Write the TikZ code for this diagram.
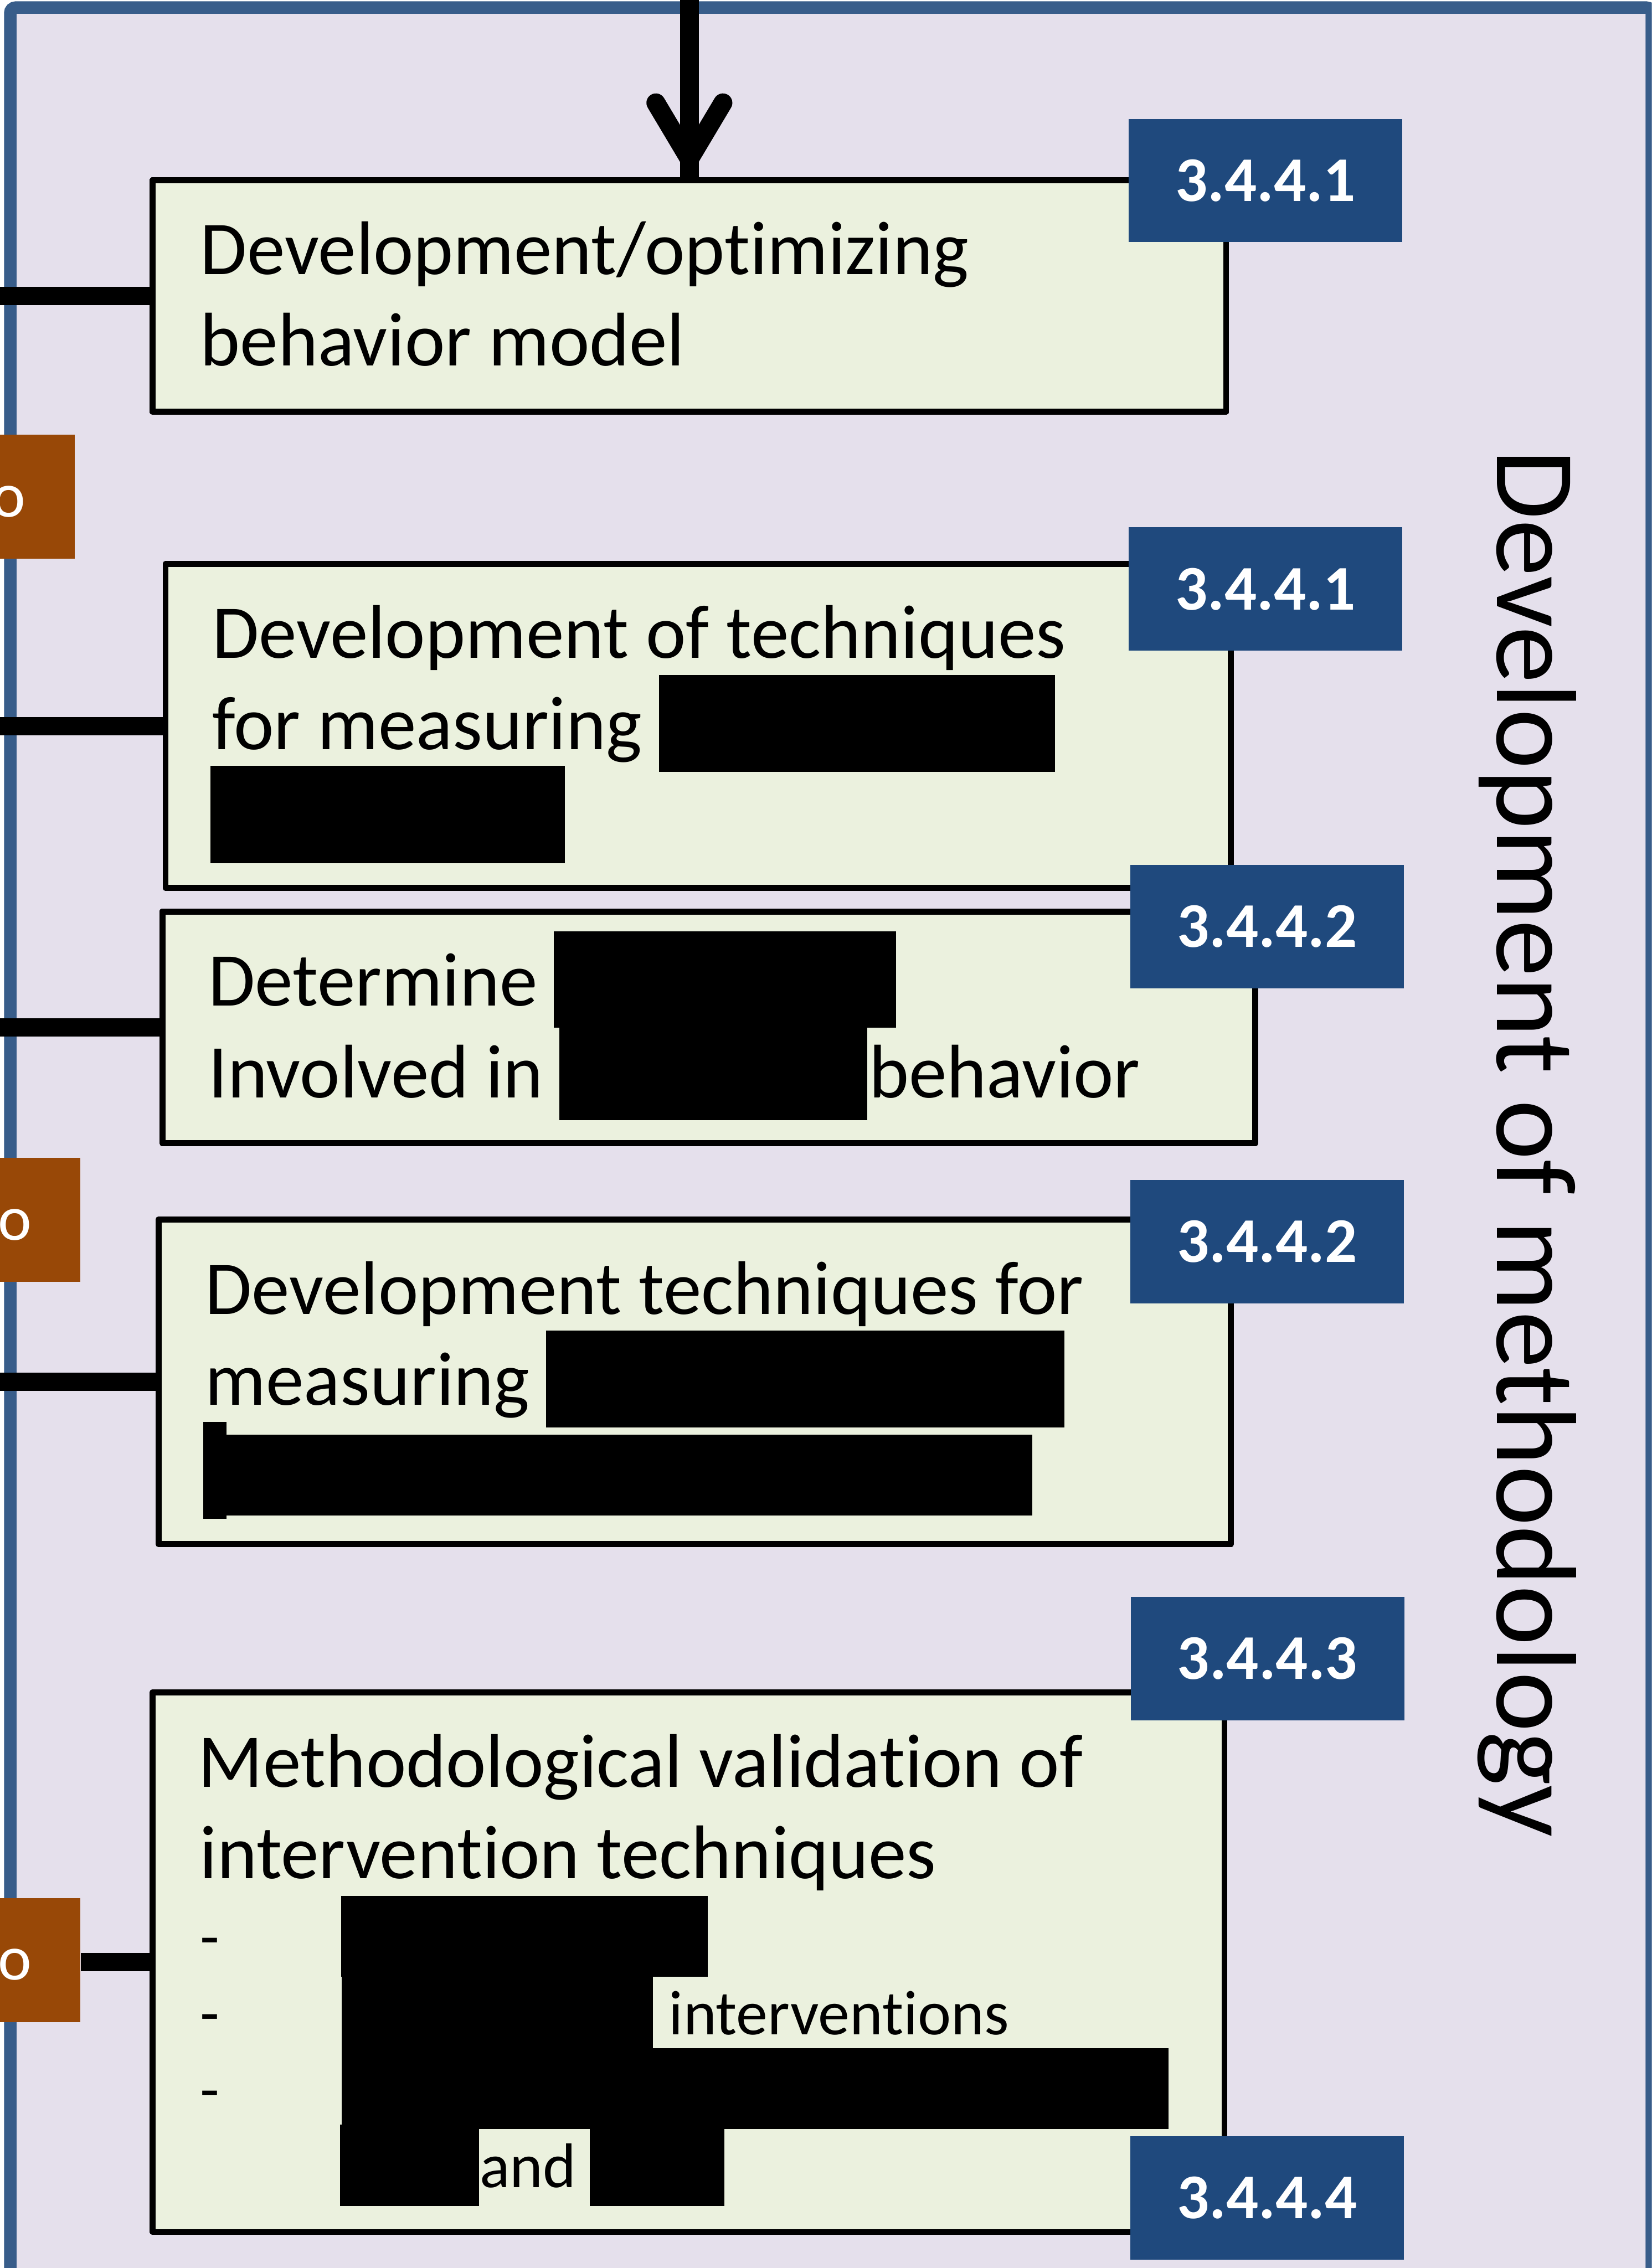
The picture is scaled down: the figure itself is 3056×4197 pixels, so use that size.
\documentclass[tikz,border=0pt]{standalone}
\usepackage{fontspec}
\setmainfont{Carlito}[Ligatures=NoCommon]
\usetikzlibrary{calc}
\definecolor{framefill}{HTML}{E5E0EC}
\definecolor{frameline}{HTML}{385D8A}
\definecolor{boxfill}{HTML}{EBF1DE}
\definecolor{tagblue}{HTML}{1F497D}
\definecolor{linkbrown}{HTML}{984807}
\begin{document}
\begin{tikzpicture}[x=0.01cm,y=-0.01cm,
  frame/.style={draw=frameline, fill=framefill, line width=0.23cm, rounded corners=0.1cm},
  task/.style={draw=black, fill=boxfill, line width=0.11cm, line join=round, inner sep=0pt},
  tag/.style={fill=tagblue, text=white, inner sep=0pt, minimum width=5.06cm, minimum height=2.28cm,
    font=\fontsize{33.5}{40}\selectfont\bfseries},
  link/.style={fill=linkbrown, inner sep=0pt, minimum height=2.29cm},
  linktext/.style={text=white, inner sep=0pt, anchor=base, font=\fontsize{33.5}{40}\selectfont},
  body/.style={anchor=base west, inner sep=0pt, font=\fontsize{40}{48}\selectfont},
  small/.style={anchor=base west, inner sep=0pt, font=\fontsize{33.2}{40}\selectfont},
  redact/.style={fill=black},
  conn/.style={line width=0.34cm},
  arrowarm/.style={line width=0.35cm, line cap=round, line join=miter}
]
\useasboundingbox (0,0) rectangle (3056,4197);
\clip (0,0) rectangle (3056,4197);

% outer panel
\draw[frame] (19,14) rectangle (3056,4400);

% free ends of the connectors
\coordinate (lft) at (-20,0);
\coordinate (topin) at (1275.5,-20);

% task boxes
\node[task, minimum width=19.85cm, minimum height=4.28cm] (b1) at (1275.5,548) {};
\node[task, minimum width=19.70cm, minimum height=5.99cm] (b2) at (1292,1343.5) {};
\node[task, minimum width=20.21cm, minimum height=4.28cm] (b3) at (1311.5,1901) {};
\node[task, minimum width=19.83cm, minimum height=6.00cm] (b4) at (1285.5,2557) {};
\node[task, minimum width=19.82cm, minimum height=9.98cm] (b5) at (1274,3631) {};

% brown link boxes on the left edge
\node[link, minimum width=2.38cm] (o1) at (19,919) {};
\node[link, minimum width=2.49cm] (o2) at (24.5,2257.5) {};
\node[link, minimum width=2.49cm] (o3) at (24.5,3627.5) {};
\node[linktext] (o1t) at (16,957) {o};
\node[linktext] (o2t) at (27,2295) {o};
\node[linktext] (o3t) at (27,3664) {o};

% connectors
\draw[conn] (b1.west -| lft) -- (b1.west);
\draw[conn] (b2.west -| lft) -- (b2.west);
\draw[conn] (b3.west -| lft) -- (b3.west);
\draw[conn] (b4.west -| lft) -- (b4.west);
\draw[conn] (o3.east |- b5.west) -- (b5.west);

% redraw the boxes over the connector ends
\node[task, minimum width=19.85cm, minimum height=4.28cm] at (b1) {};
\node[task, minimum width=19.70cm, minimum height=5.99cm] at (b2) {};
\node[task, minimum width=20.21cm, minimum height=4.28cm] at (b3) {};
\node[task, minimum width=19.83cm, minimum height=6.00cm] at (b4) {};
\node[task, minimum width=19.82cm, minimum height=9.98cm] at (b5) {};

% incoming arrow from above
\draw[line width=0.35cm] (topin) -- (b1.north);
\draw[arrowarm] ($(b1.north)+(-62,-138)$) -- ($(b1.north)+(0,-34)$) -- ($(b1.north)+(62,-138)$);

% box texts
\node[body] (t1a) at (370,508) {Development/optimizing};
\node[body] (t1b) at (370,677) {behavior model};

\node[body] (t2a) at (392,1218) {Development of techniques};
\node[body] (t2b) at (392,1387) {for measuring};
\fill[redact] (1219,1249) rectangle (1952,1428);
\fill[redact] (389,1417) rectangle (1045,1597);

\node[body] (t3a) at (385,1861) {Determine};
\node[body] (t3b) at (385,2031) {Involved in};
\node[body] (t3c) at (1607,2031) {behavior};
\fill[redact] (1025,1723) rectangle (1658,1902);
\fill[redact] (1035,1902) rectangle (1605,2073);

\node[body] (t4a) at (379,2432) {Development techniques for};
\node[body] (t4b) at (379,2600) {measuring};
\fill[redact] (1010,2462) rectangle (1969,2642);
\fill[redact] (376,2631) rectangle (419,2811);
\fill[redact] (419,2655) rectangle (1910,2804);

\node[body] (t5a) at (366,3307) {Methodological validation of};
\node[body] (t5b) at (369,3476) {intervention techniques};
\node[small] (d1) at (370,3624) {-};
\node[small] (d2) at (370,3765) {-};
\node[small] (d3) at (370,3906) {-};
\node[small] (t5c) at (1237,3765) {interventions};
\node[small] (t5d) at (887,4048) {and};
\fill[redact] (631,3508) rectangle (1309,3658);
\fill[redact] (632,3658) rectangle (1208,3790);
\fill[redact] (632,3790) rectangle (2162,3940);
\fill[redact] (629,3932) rectangle (886,4082);
\fill[redact] (1091,3940) rectangle (1340,4082);

% section tags
\node[tag] (l1) at (2341.5,334) {3.4.4.1};
\node[tag] (l2) at (2341,1090) {3.4.4.1};
\node[tag] (l3) at (2344.5,1714.5) {3.4.4.2};
\node[tag] (l4) at (2344.5,2297.5) {3.4.4.2};
\node[tag] (l5) at (2345,3069.5) {3.4.4.3};
\node[tag] (l6) at (2344.5,4067) {3.4.4.4};

% panel title
\node[rotate=-90, anchor=base, inner sep=0pt, font=\fontsize{60}{72}\selectfont] (side) at (2770,2116) {Development of methodology};
\end{tikzpicture}
\end{document}
